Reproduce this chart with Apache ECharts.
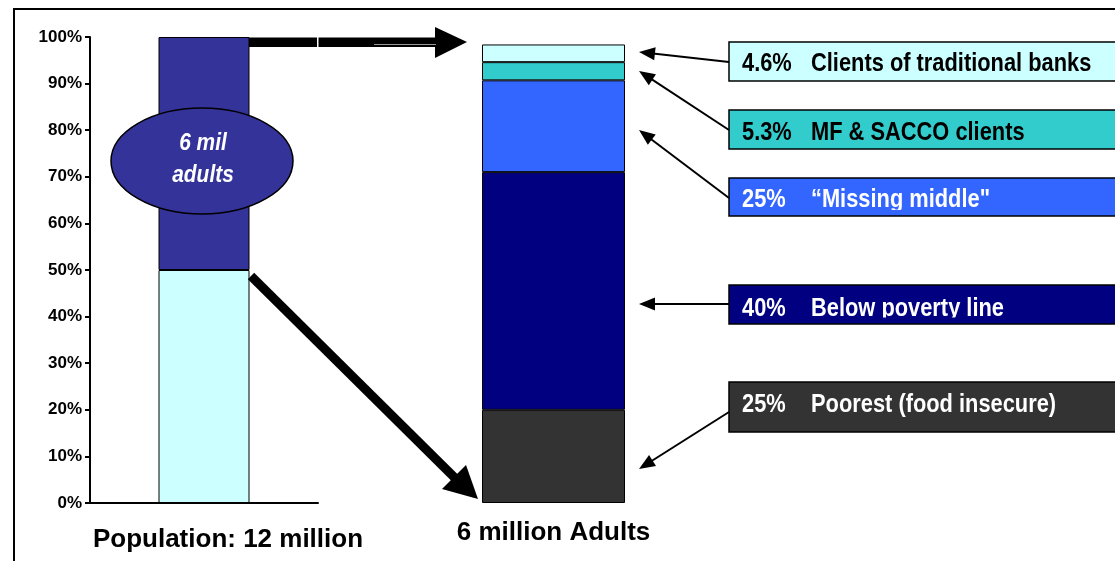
<!DOCTYPE html>
<html>
<head>
<meta charset="utf-8">
<script src="https://cdn.jsdelivr.net/npm/echarts@6/dist/echarts.min.js"></script>
<style>html,body{margin:0;padding:0;background:#fff}#chart{width:1115px;height:561px}</style>
</head>
<body>
<div id="chart"></div>
<script>
// ---- data ----
const popCategory = ['Population: 12 million'];
const popNames = ['Non-adults', 'Adults (6 mil)'];
const popValues = [50, 50];
const adultCategory = ['6 million Adults'];
const adultNames = ['Poorest (food insecure)', 'Below poverty line', '\u201cMissing middle"', 'MF & SACCO clients', 'Clients of traditional banks'];
const adultValues = [20, 51, 19.7, 3.9, 3.8];
const boxPercents = ['25%', '40%', '25%', '5.3%', '4.6%'];
const yTickFormat = '{value}%';

// ---- styles ----
const popColors = ['#CCFFFF', '#333399'];
const adultColors = ['#333333', '#000080', '#3366FF', '#33CCCC', '#CCFFFF'];
const boxTextColors = ['#fff', '#fff', '#fff', '#000', '#000'];

const chart = echarts.init(document.getElementById('chart'), null, {renderer: 'canvas'});

const series = [];
popValues.forEach((v, i) => series.push({
  type: 'bar', name: popNames[i], xAxisIndex: 0, yAxisIndex: 0, stack: 'pop',
  data: [v], barWidth: 91,
  itemStyle: {color: popColors[i], borderColor: '#000', borderWidth: 1}
}));
adultValues.forEach((v, i) => series.push({
  type: 'bar', name: adultNames[i], xAxisIndex: 1, yAxisIndex: 1, stack: 'adult',
  data: [v], barWidth: 143,
  itemStyle: {color: adultColors[i], borderColor: '#000', borderWidth: 1}
}));

const sans = '"Liberation Sans", Arial, sans-serif';
const g = [];
// outer frame
g.push({type: 'rect', z: 20, shape: {x: 13, y: 8, width: 2, height: 560}, style: {fill: '#000'}});
g.push({type: 'rect', z: 20, shape: {x: 13, y: 8, width: 1110, height: 2}, style: {fill: '#000'}});

// ellipse
g.push({type: 'ellipse', z: 20, shape: {cx: 202, cy: 161, rx: 91, ry: 53}, style: {fill: '#333399', stroke: '#000', lineWidth: 1.5}});
g.push({type: 'text', z: 21, x: 203, y: 143, scaleX: 0.87, style: {text: '6 mil', x: 0, y: 0, fill: '#fff', font: 'italic bold 24px ' + sans, textAlign: 'center', textVerticalAlign: 'middle'}});
g.push({type: 'text', z: 21, x: 203, y: 175, scaleX: 0.87, style: {text: 'adults', x: 0, y: 0, fill: '#fff', font: 'italic bold 24px ' + sans, textAlign: 'center', textVerticalAlign: 'middle'}});

// top thick arrow
g.push({type: 'rect', z: 20, shape: {x: 249, y: 37.5, width: 188, height: 9.5}, style: {fill: '#000'}});
g.push({type: 'rect', z: 21, shape: {x: 317, y: 37, width: 1.5, height: 11}, style: {fill: '#fff'}});
g.push({type: 'rect', z: 21, shape: {x: 374, y: 44, width: 62, height: 1}, style: {fill: '#999'}});
g.push({type: 'polygon', z: 20, shape: {points: [[435, 27], [467, 42], [435, 58]]}, style: {fill: '#000'}});
// diagonal thick arrow
g.push({type: 'line', z: 20, shape: {x1: 251, y1: 276, x2: 455, y2: 478}, style: {stroke: '#000', lineWidth: 9}});
g.push({type: 'polygon', z: 20, shape: {points: [[478, 499], [442, 489], [466, 465]]}, style: {fill: '#000'}});

// boxes (bottom to top order matches adultValues)
const boxes = [
  {y: 382, h: 50, ty: 405, from: [729, 412], to: [639, 469]},
  {y: 285, h: 39, ty: 309, from: [729, 304], to: [639, 304], clip: 317.5},
  {y: 178, h: 38, ty: 200, from: [729, 198], to: [639, 130], clip: 210},
  {y: 110, h: 39, ty: 133, from: [729, 130], to: [639, 71]},
  {y: 42, h: 39, ty: 64, from: [729, 62], to: [639, 52]}
];
function arrow(a, b) {
  const dx = b[0] - a[0], dy = b[1] - a[1];
  const L = Math.sqrt(dx * dx + dy * dy), ux = dx / L, uy = dy / L;
  const hl = 16, hw = 6.5;
  const bx = b[0] - ux * hl, by = b[1] - uy * hl;
  g.push({type: 'line', z: 20, shape: {x1: a[0], y1: a[1], x2: bx + ux * 2, y2: by + uy * 2}, style: {stroke: '#000', lineWidth: 2}});
  g.push({type: 'polygon', z: 20, shape: {points: [[b[0], b[1]], [bx - uy * hw, by + ux * hw], [bx + uy * hw, by - ux * hw]]}, style: {fill: '#000'}});
}
boxes.forEach((b, i) => {
  g.push({type: 'rect', z: 20, shape: {x: 729, y: b.y, width: 420, height: b.h}, style: {fill: adultColors[i], stroke: '#000', lineWidth: 1.5}});
  g.push({type: 'text', z: 21, x: 742, y: b.ty, scaleX: 0.84, style: {text: boxPercents[i], x: 0, y: 0, fill: boxTextColors[i], font: 'bold 26px ' + sans, textAlign: 'left', textVerticalAlign: 'middle'}});
  g.push({type: 'text', z: 21, x: 811, y: b.ty, scaleX: 0.84, style: {text: adultNames[i], x: 0, y: 0, fill: boxTextColors[i], font: 'bold 26px ' + sans, textAlign: 'left', textVerticalAlign: 'middle'}});
  if (b.clip) {
    g.push({type: 'rect', z: 22, shape: {x: 730, y: b.clip, width: 400, height: b.y + b.h - b.clip - 1}, style: {fill: adultColors[i]}});
  }
  arrow(b.from, b.to);
});

const labelFont = {color: '#000', fontFamily: sans, fontWeight: 'bold', fontSize: 26};
chart.setOption({
  animation: false,
  backgroundColor: '#fff',
  grid: [
    {left: 90, top: 37, width: 228, height: 466, outerBoundsMode: 'none'},
    {left: 482, top: 37, width: 143, height: 466, outerBoundsMode: 'none'}
  ],
  xAxis: [
    {type: 'category', gridIndex: 0, data: popCategory,
     axisLine: {lineStyle: {color: '#000', width: 2}},
     axisTick: {length: 5, lineStyle: {color: '#000', width: 2}},
     axisLabel: Object.assign({margin: 24, padding: [0, 0, 0, 48]}, labelFont)},
    {type: 'category', gridIndex: 1, data: adultCategory,
     axisLine: {show: false}, axisTick: {show: false},
     axisLabel: Object.assign({margin: 17}, labelFont)}
  ],
  yAxis: [
    {type: 'value', gridIndex: 0, min: 0, max: 100, interval: 10,
     axisLine: {show: true, lineStyle: {color: '#000', width: 2}},
     axisTick: {show: true, length: 5, lineStyle: {color: '#000', width: 2}},
     splitLine: {show: false},
     axisLabel: {formatter: yTickFormat, color: '#000', fontFamily: sans, fontWeight: 'bold', fontSize: 17, margin: 8}},
    {type: 'value', gridIndex: 1, min: 0, max: 100, show: false, splitLine: {show: false}}
  ],
  series: series,
  graphic: {elements: g}
});
</script>
</body>
</html>
